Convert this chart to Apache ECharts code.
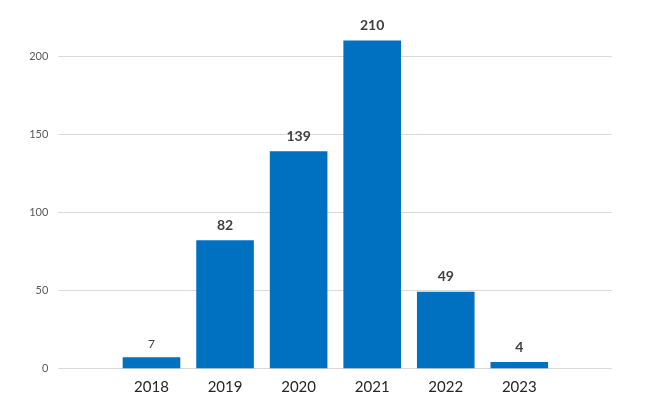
<!DOCTYPE html>
<html>
<head>
<meta charset="utf-8">
<script src="https://cdn.jsdelivr.net/npm/echarts@6/dist/echarts.min.js"></script>
<style>
html,body{margin:0;padding:0;background:#fff;}
#chart{width:648px;height:413px;}
</style>
</head>
<body>
<div id="chart"></div>
<script>
const categories = ['2018', '2019', '2020', '2021', '2022', '2023'];
const values = [7, 82, 139, 210, 49, 4];
const yTicks = [0, 50, 100, 150, 200];

const FONT = 'Lato, "Liberation Sans", sans-serif';
const chart = echarts.init(document.getElementById('chart'), null, {renderer: 'canvas'});

const seriesData = values.map((v, i) => {
  const item = {value: v};
  if (i === 0) {
    item.label = {fontWeight: 'normal', fontSize: 12, color: '#404040', distance: 7};
  }
  return item;
});

chart.setOption({
  animation: false,
  backgroundColor: '#ffffff',
  grid: [
    {left: 58.3, right: 36.3, top: 56, bottom: 44.7},
    {left: 114.7, right: 91.9, top: 56, bottom: 44.7}
  ],
  xAxis: [
    {gridIndex: 0, type: 'category', data: categories, show: false},
    {
      gridIndex: 1, type: 'category', data: categories,
      axisLine: {show: false}, axisTick: {show: false},
      axisLabel: {color: '#262626', fontSize: 15, fontFamily: FONT, margin: 11}
    }
  ],
  yAxis: [
    {
      gridIndex: 0, type: 'value', min: yTicks[0], max: yTicks[yTicks.length - 1], interval: 50,
      axisLine: {show: false}, axisTick: {show: false},
      axisLabel: {color: '#595959', fontSize: 11, fontFamily: FONT, margin: 10},
      splitLine: {lineStyle: {color: '#d9d9d9', width: 1}}
    },
    {
      gridIndex: 1, type: 'value', min: yTicks[0], max: yTicks[yTicks.length - 1], interval: 50,
      show: false, splitLine: {show: false}
    }
  ],
  series: [{
    type: 'bar',
    xAxisIndex: 1, yAxisIndex: 1,
    data: seriesData,
    clip: false,
    barCategoryGap: '21.7%',
    itemStyle: {color: '#0070c0'},
    label: {
      show: true, position: 'top', distance: 8,
      color: '#404040', fontSize: 14, fontWeight: 'bold', fontFamily: FONT
    }
  }]
});
</script>
</body>
</html>
